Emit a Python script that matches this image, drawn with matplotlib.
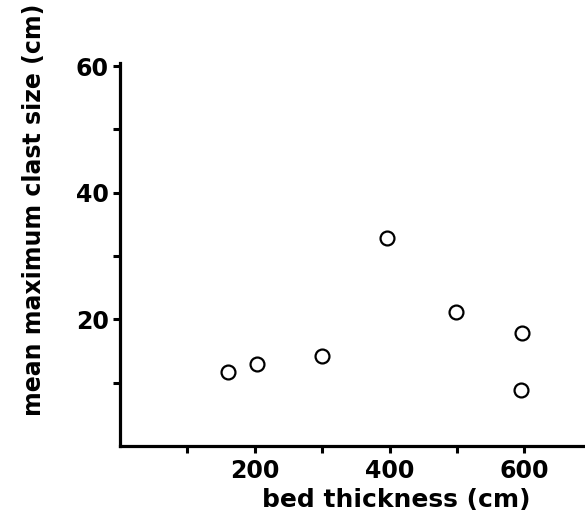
import matplotlib
matplotlib.use("Agg")
import matplotlib.pyplot as plt

# bed thickness (cm) vs mean maximum clast size (cm)
bed_thickness = [160, 204, 300, 396, 499, 597, 595]
clast_size = [11.7, 12.9, 14.2, 32.9, 21.1, 17.8, 8.9]

x_major = [200, 400, 600]
x_minor = [100, 300, 500]
y_major = [20, 40, 60]
y_minor = [10, 30, 50]

plt.rcParams["font.family"] = ["DejaVu Sans"]
plt.rcParams["font.weight"] = "bold"

fig = plt.figure(figsize=(5.85, 5.23), dpi=100)
ax = fig.add_axes([120 / 585, 77 / 523, 465 / 585, 383 / 523])

ax.plot(bed_thickness, clast_size, linestyle="none", marker="o", markersize=10,
        markerfacecolor="white", markeredgecolor="black", markeredgewidth=1.6)

ax.set_xlim(0, 690)
ax.set_ylim(0, 60.5)

ax.set_xticks(x_major)
ax.set_xticks(x_minor, minor=True)
ax.set_yticks(y_major)
ax.set_yticks(y_minor, minor=True)

for side in ("top", "right"):
    ax.spines[side].set_visible(False)
for side in ("left", "bottom"):
    ax.spines[side].set_linewidth(2.3)

ax.tick_params(which="both", direction="out", length=5, width=2.2, color="black")
ax.tick_params(axis="x", which="major", labelsize=17, pad=4)
ax.tick_params(axis="y", which="major", labelsize=17, pad=3)
for lbl in ax.get_xticklabels() + ax.get_yticklabels():
    lbl.set_fontweight("bold")

fig.text(396 / 585, 1 - 500 / 523, "bed thickness (cm)", ha="center", va="center",
         fontsize=18, fontweight="bold")
fig.text(34 / 585, 1 - 210 / 523, "mean maximum clast size (cm)", ha="center", va="center",
         rotation=90, fontsize=17, fontweight="bold")

fig.savefig("out.png", dpi=100)
